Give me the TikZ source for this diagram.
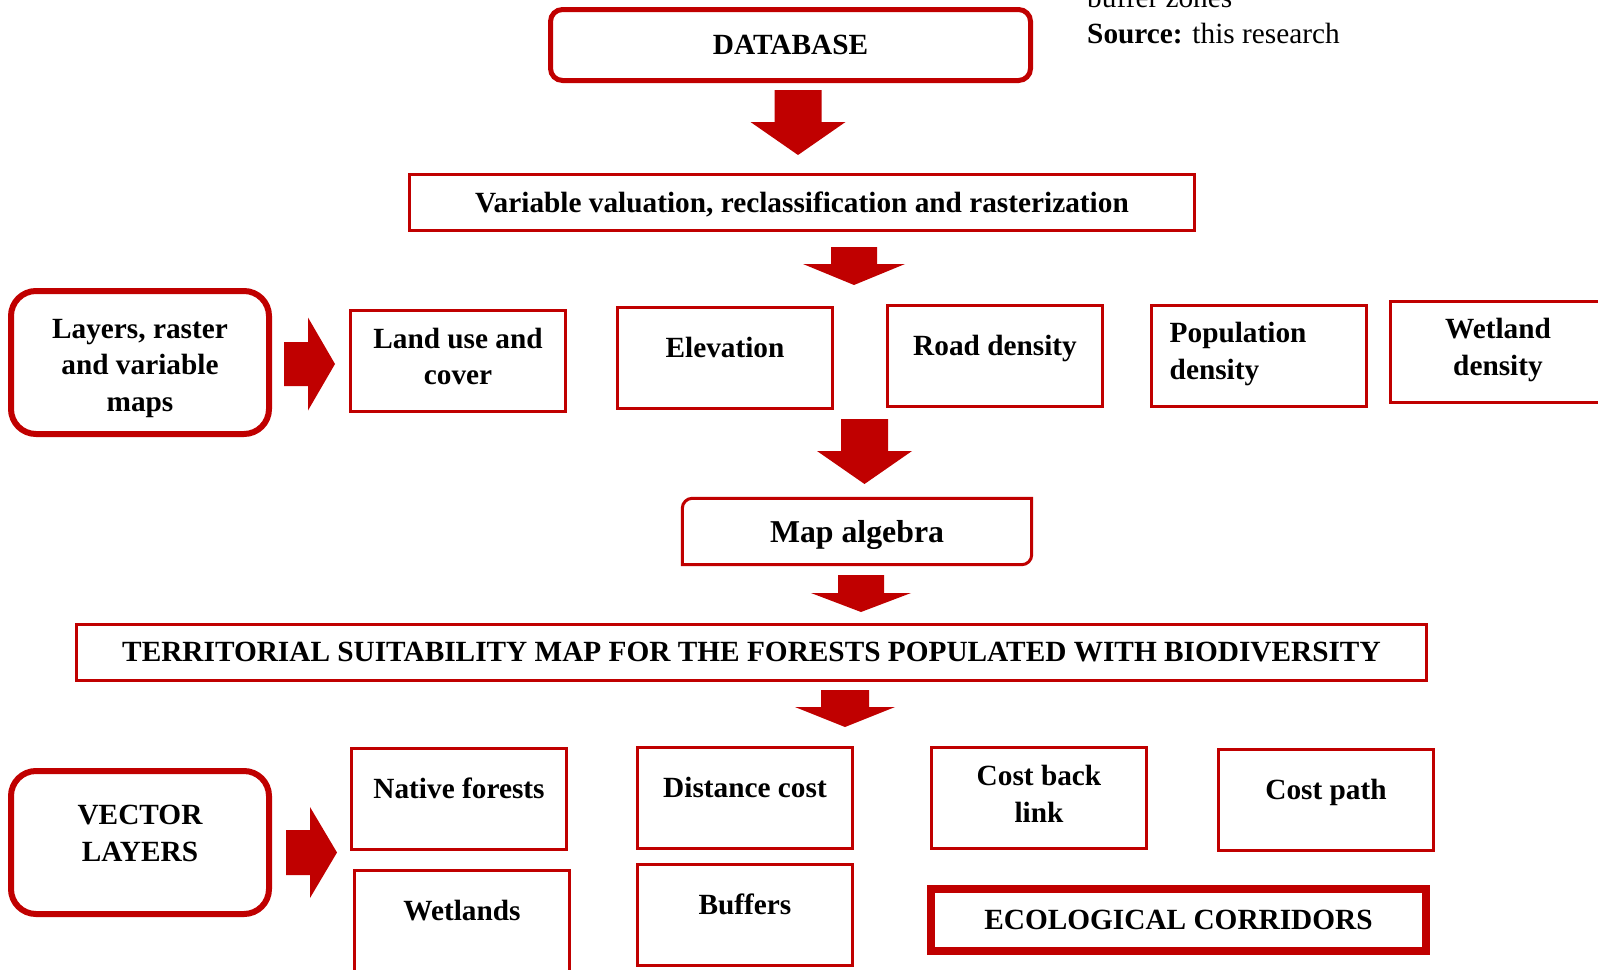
\documentclass[tikz,border=0pt]{standalone}
\usepackage{fontspec}
\setmainfont{Liberation Serif}
\usepackage{tikz}
\definecolor{dark}{RGB}{192, 0, 0}

% block arrows: centre, start, neck, tip, shaft half width, head half width
\newcommand{\blockdown}[6]{%
  \fill[color=dark] (#1-#5, #2) -- (#1+#5, #2) -- (#1+#5, #3) -- (#1+#6, #3)
    -- (#1, #4) -- (#1-#6, #3) -- (#1-#5, #3) -- cycle;}
\newcommand{\blockright}[6]{%
  \fill[color=dark] (#2, #1-#5) -- (#2, #1+#5) -- (#3, #1+#5) -- (#3, #1+#6)
    -- (#4, #1) -- (#3, #1-#6) -- (#3, #1-#5) -- cycle;}

\begin{document}
\begin{tikzpicture}[x=1pt, y=-1pt,
  every node/.style={font=\fontsize{29.3pt}{36.5pt}\selectfont\bfseries, inner sep=0pt, align=center},
  thinbox/.style={draw=dark, line width=3pt},
  cell/.style={thinbox, minimum width=215pt, minimum height=101pt},
  roundbox/.style={draw=dark, line width=6pt, rounded corners=25pt, minimum width=258pt, minimum height=143pt},
  intext/.style={anchor=north, yshift=-31pt},
  intexttwo/.style={anchor=north, yshift=-19pt},
  plain/.style={font=\fontsize{29.3pt}{36.5pt}\selectfont, anchor=base west}]
  \useasboundingbox[fill=white] (0, 0) rectangle (1598, 969);

  % top
  \node (srcprev) [plain] at (1087, 8) {buffer zones};
  \node (src) [plain] at (1087, 43) {\textbf{Source:} this research};
  \node (db) [draw=dark, line width=5pt, rounded corners=12pt, minimum width=480pt, minimum height=71pt] at (790.5, 45) {DATABASE};
  \blockdown{798}{90}{122}{155}{23.5}{47.5}
  \node (valuation) [thinbox, minimum width=785pt, minimum height=56pt, text depth=0pt] at (802, 202.5) {Variable valuation, reclassification and rasterization};
  \blockdown{854}{247}{264}{285}{23}{51}

  % raster row
  \node (layers) [roundbox, label={[anchor=north, yshift=-31pt]north:{Layers, raster\\and variable\\maps}}] at (140, 362.5) {};
  \blockright{364}{284}{308}{335}{22}{46.5}
  \node (landuse) [cell, label={[intexttwo]north:{Land use and\\cover}}] at (458, 360.5) {};
  \node (elev) [cell, label={[intext]north:Elevation}] at (725, 358) {};
  \node (road) [cell, label={[intext]north:Road density}] at (995, 355.5) {};
  \node (popul) [cell, label={[anchor=north west, align=left, xshift=19.5pt, yshift=-18.5pt]north west:{Population\\density}}] at (1259, 355.5) {};
  \node (wetdens) [cell, label={[anchor=north, yshift=-18.5pt]north:{Wetland\\density}}] at (1498, 351.5) {};
  \blockdown{864.5}{419}{451}{484}{23.5}{47.5}

  % map algebra
  \node (alg) [minimum width=349pt, minimum height=66pt, text depth=0pt, font=\fontsize{31.8pt}{36pt}\selectfont\bfseries] at (857, 531.5) {Map algebra};
  \draw[thinbox] (alg.west) [rounded corners=10pt] -- (alg.north west) [sharp corners] -- (alg.north east)
    [rounded corners=10pt] -- (alg.south east) [sharp corners] -- (alg.south west) -- cycle;
  \blockdown{861}{575}{593}{612}{23}{50}
  \node (suit) [thinbox, minimum width=1350pt, minimum height=56pt] at (751.5, 652.5) {TERRITORIAL SUITABILITY MAP FOR THE FORESTS POPULATED WITH BIODIVERSITY};
  \blockdown{845}{690}{707}{727}{24}{50}

  % vector row
  \node (vector) [roundbox, label={[anchor=north, yshift=-37pt]north:{VECTOR\\LAYERS}}] at (140, 842.5) {};
  \blockright{852.5}{286}{310}{337}{22.5}{45.5}
  \node (native) [cell, label={[intext]north:Native forests}] at (459, 799) {};
  \node (wetl) [cell, label={[intext]north:Wetlands}] at (462, 921) {};
  \node (dist) [cell, label={[intext]north:Distance cost}] at (745, 798) {};
  \node (buff) [cell, label={[intext]north:Buffers}] at (745, 915) {};
  \node (backlink) [cell, label={[intexttwo]north:{Cost back\\link}}] at (1039, 798) {};
  \node (costpath) [cell, label={[intext]north:Cost path}] at (1326, 800) {};
  \node (corr) [draw=dark, line width=8pt, minimum width=495pt, minimum height=62pt] at (1178.5, 920) {ECOLOGICAL CORRIDORS};
\end{tikzpicture}
\end{document}
